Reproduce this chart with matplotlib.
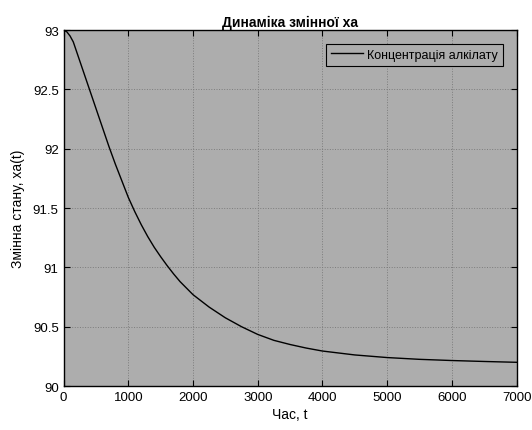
import numpy as np
import matplotlib.pyplot as plt

plt.rcParams['font.family'] = ['Liberation Sans', 'DejaVu Sans']

# values
t = [0, 50, 100, 150, 200, 250, 300, 350, 400, 500, 600, 700, 800, 900, 1000,
     1100, 1200, 1300, 1400, 1500, 1600, 1700, 1800, 1900, 2000, 2250, 2500,
     2750, 3000, 3250, 3500, 3750, 4000, 4500, 5000, 5500, 6000, 6500, 7000]
xa = [93.0, 92.985, 92.95, 92.90, 92.82, 92.74, 92.66, 92.58, 92.50, 92.34,
      92.18, 92.02, 91.87, 91.73, 91.59, 91.47, 91.36, 91.26, 91.17, 91.09,
      91.015, 90.945, 90.88, 90.825, 90.77, 90.665, 90.575, 90.50, 90.435,
      90.385, 90.35, 90.32, 90.295, 90.262, 90.24, 90.225, 90.215, 90.207,
      90.20]

xticks = [0, 1000, 2000, 3000, 4000, 5000, 6000, 7000]
yticks = [90, 90.5, 91, 91.5, 92, 92.5, 93]
ytick_labels = ['90', '90.5', '91', '91.5', '92', '92.5', '93']

fig = plt.figure(figsize=(5.32, 4.31), dpi=100)
ax = fig.add_axes([0.1195, 0.102, 0.8515, 0.826])
ax.set_facecolor('#adadad')

ax.plot(t, xa, color='black', lw=1.0, label='Концентрація алкілату')

ax.set_xlim(0, 7000)
ax.set_ylim(90, 93)
ax.set_xticks(xticks)
ax.set_yticks(yticks)
ax.set_yticklabels(ytick_labels)
ax.tick_params(direction='in', top=True, right=True, labelsize=9.5, length=4, width=0.8)
ax.grid(True, color='#7c7c7c', linestyle=':', lw=0.7)
for s in ax.spines.values():
    s.set_linewidth(1.0)

ax.set_title('Динаміка змінної xa', fontsize=10, fontweight='bold', pad=3)
ax.set_xlabel('Час, t', fontsize=10, labelpad=3)
ax.set_ylabel('Змінна стану, xa(t)', fontsize=10, labelpad=6)

leg = ax.legend(loc='upper right', fontsize=9, fancybox=False, framealpha=1,
                facecolor='#adadad', edgecolor='black', handlelength=2.5,
                handletextpad=0.35, borderaxespad=1.1, borderpad=0.4)
leg.get_frame().set_linewidth(0.8)

fig.savefig('out.png', dpi=100)
